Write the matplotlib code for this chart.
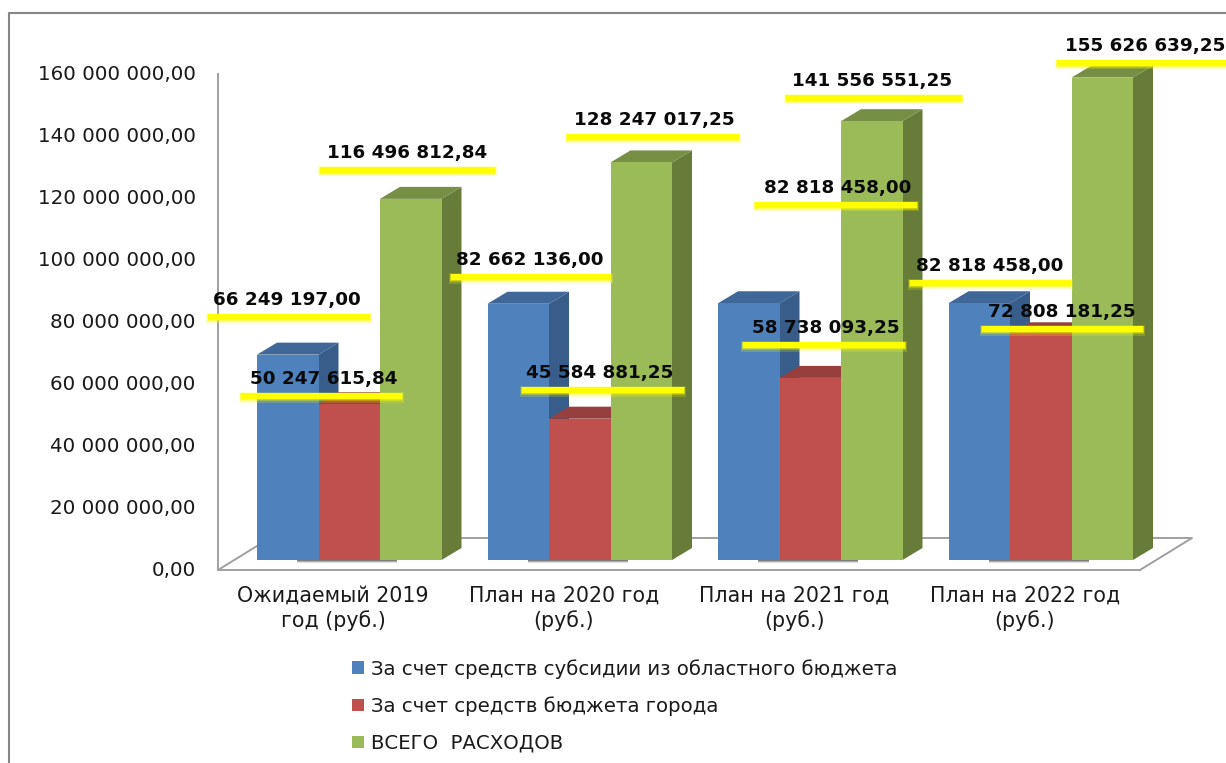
import matplotlib
matplotlib.use("Agg")
import matplotlib.pyplot as plt
from matplotlib.patches import Rectangle, Patch
from matplotlib.lines import Line2D
from matplotlib.transforms import Affine2D

categories = ["Ожидаемый 2019\nгод (руб.)", "План на 2020 год\n(руб.)",
              "План на 2021 год\n(руб.)", "План на 2022 год\n(руб.)"]
subsidy = [66249197.00, 82662136.00, 82818458.00, 82818458.00]
city = [50247615.84, 45584881.25, 58738093.25, 72808181.25]
total = [116496812.84, 128247017.25, 141556551.25, 155626639.25]
series_names = ["За счет средств субсидии из областного бюджета",
                "За счет средств бюджета города", "ВСЕГО  РАСХОДОВ"]
y_ticks = [0, 20e6, 40e6, 60e6, 80e6, 100e6, 120e6, 140e6, 160e6]

W, H = 1226, 763
AX_L, AX_R, AX_T, AX_B = 218, 1140, 74, 570
PX_X = 4 / (AX_R - AX_L)          # data x per pixel
PX_Y = 160e6 / (AX_B - AX_T)      # data y per pixel
FRONT = ["#4F81BD", "#C0504D", "#9BBB59"]
SIDE = ["#385D8A", "#8A3A38", "#667C38"]
TOP = ["#3F6797", "#973F3D", "#778F45"]
TEXT = "#1A1A1A"

def fmt(v):
    s = f"{v:,.2f}"
    return s.replace(",", " ").replace(".", ",")

fig = plt.figure(figsize=(W / 100, H / 100), dpi=100, facecolor="white")
ax = fig.add_axes([AX_L / W, 1 - AX_B / H, (AX_R - AX_L) / W, (AX_B - AX_T) / H])
ax.set_xlim(-0.5, 3.5)
ax.set_ylim(0, 160e6)
ax.patch.set_alpha(0)
for s in ("top", "right"):
    ax.spines[s].set_visible(False)
for s in ("left", "bottom"):
    ax.spines[s].set_color("#A0A0A0")
    ax.spines[s].set_linewidth(1.4)

ax.set_yticks(y_ticks)
ax.set_yticklabels([fmt(v) for v in y_ticks], fontsize=14.3, color=TEXT, family="DejaVu Sans")
ax.set_xticks(range(len(categories)))
ax.set_xticklabels(categories, fontsize=14.8, color=TEXT, family="DejaVu Sans", linespacing=1.22)
ax.tick_params(axis="both", length=0)
ax.tick_params(axis="y", pad=16)
ax.tick_params(axis="x", pad=11.5)
for lab in ax.get_yticklabels():
    lab.set_va("center")

# floor
floor_dx, floor_dy = 52 * PX_X, 32 * PX_Y
ax.plot([-0.5, -0.5 + floor_dx, 3.5 + floor_dx, 3.5], [0, floor_dy, floor_dy, 0],
        color="#A0A0A0", lw=1.4, clip_on=False, zorder=1)

# bars
base = 10 * PX_Y
bw = 61.5 * PX_X
dx, dy = 20 * PX_X, 12 * PX_Y
shift = 16 * PX_X
series = [subsidy, city, total]
z = 3
for i in range(len(categories)):
    c0 = i + shift
    for g, a in ((3.2, 0.15), (2.2, 0.25), (1.2, 0.35)):
        ax.fill_between([c0 - 52 * PX_X, c0 + 48 * PX_X],
                        base - g * PX_Y, base, color="#222222", alpha=a, lw=0, zorder=2)
    for j, vals in enumerate(series):
        x0 = c0 + (j - 1.5) * bw
        x1 = x0 + bw
        v = vals[i] + base
        ax.fill([x1, x1 + dx, x1 + dx, x1], [base, base + dy, v + dy, v],
                color=SIDE[j], lw=0, zorder=z, clip_on=False)
        ax.fill([x0, x0 + dx, x1 + dx, x1], [v, v + dy, v + dy, v],
                color=TOP[j], lw=0, zorder=z, clip_on=False)
        ax.bar(x0, vals[i], bw, bottom=base, align="edge", color=FRONT[j], lw=0,
               zorder=z + 0.5, clip_on=False)
        z += 1

# pixel-space helpers
px = Affine2D().scale(1 / W, -1 / H).translate(0, 1) + fig.transFigure

def prect(x, y, w, h, color, alpha=1.0, zo=10):
    fig.add_artist(Rectangle((x, y), w, h, transform=px, facecolor=color, edgecolor="none",
                             alpha=alpha, zorder=zo))

# frame of the picture
fig.add_artist(Line2D([9, 9, W], [H, 13, 13], transform=px, color="#868686", lw=1.5, zorder=1))

# data labels: text centre x, text centre y, left and right edge of the yellow band
label_boxes = [
    [(287, 300, 208, 370), (530, 260, 451, 611), (838, 188, 755, 917), (990, 266, 910, 1071)],
    [(324, 379, 241, 402), (600, 373, 522, 684), (826, 328, 743, 905), (1062, 312, 982, 1143)],
    [(407, 153, 320, 495), (654, 120, 567, 739), (872, 81, 786, 962), (1145, 46, 1057, 1226)],
]
for j, vals in enumerate(series):
    for i, v in enumerate(vals):
        tx, ty, xl, xr = label_boxes[j][i]
        yb = ty + 14
        for g, a in ((3.5, 0.2), (2.2, 0.3), (1.0, 0.4)):
            prect(xl - g * 0.6, yb - g * 0.2, xr - xl + 1.2 * g, 6 + 1.2 * g, "#FFFF00", a, 10)
        prect(xl, yb, xr - xl, 6, "#FFFF00", 1.0, 11)
        fig.text(tx, ty, fmt(v), transform=px, ha="center", va="center", fontsize=13.2,
                 fontweight="bold", color="#0A0A0A", family="DejaVu Sans", zorder=12)

# legend
handles = [Patch(facecolor=c, edgecolor="none") for c in FRONT]
leg = fig.legend(handles, series_names, loc="upper left",
                 bbox_to_anchor=(346 / W, 1 - 653 / H), bbox_transform=fig.transFigure,
                 frameon=False, fontsize=14.25, labelcolor=TEXT, handlelength=0.6,
                 handleheight=0.6, handletextpad=0.35, labelspacing=0.9,
                 borderpad=0.3, borderaxespad=0)

fig.savefig("out.png", dpi=100, facecolor="white")
